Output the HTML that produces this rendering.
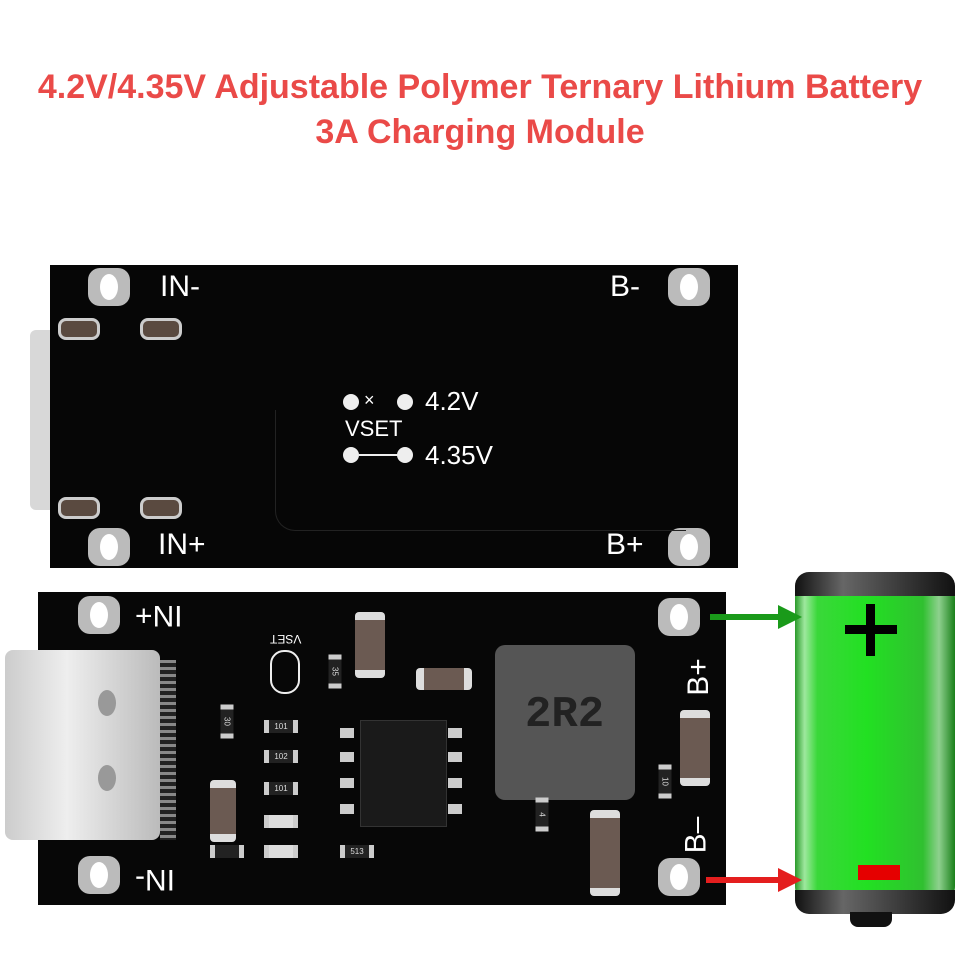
<!DOCTYPE html><html><head><style>
body{margin:0;width:960px;height:960px;background:#fff;position:relative;overflow:hidden;font-family:"Liberation Sans",sans-serif}
.a{position:absolute}
.t{color:#ea4a48;font-size:34px;font-weight:bold;text-align:center;width:960px;left:0}
.h{position:absolute;width:42px;height:38px;border-radius:12px;background:#bbb}
.h::after{content:"";position:absolute;left:12px;top:6px;width:18px;height:26px;border-radius:50%;background:#fff}
.w{position:absolute;color:#fff;font-size:30px}
.pad{position:absolute;width:36px;height:16px;border-radius:8px;background:#5a4a40;border:3px solid #ccc}
.cap{position:absolute;background:#6b5a52;border-top:8px solid #ddd;border-bottom:8px solid #ddd;border-radius:4px}
.r{position:absolute;width:24px;height:13px;background:#222;border-left:5px solid #ccc;border-right:5px solid #ccc;color:#ddd;font-size:8px;text-align:center;line-height:13px}
.pin{position:absolute;width:14px;height:10px;background:#ccc}
</style></head><body>
<div class="a t" style="top:68px">4.2V/4.35V Adjustable Polymer Ternary Lithium Battery</div>
<div class="a t" style="top:113px">3A Charging Module</div>

<div class="a" style="left:30px;top:330px;width:30px;height:180px;background:#d8d8d8;border-radius:6px"></div>
<div class="a" style="left:50px;top:265px;width:688px;height:303px;background:#060606"></div>
<div class="h" style="left:88px;top:268px"></div><div class="h" style="left:668px;top:268px"></div>
<div class="h" style="left:88px;top:528px"></div><div class="h" style="left:668px;top:528px"></div>
<div class="w" style="left:160px;top:270px">IN-</div><div class="w" style="left:610px;top:270px">B-</div>
<div class="w" style="left:158px;top:528px">IN+</div><div class="w" style="left:606px;top:528px">B+</div>
<div class="pad" style="left:58px;top:318px"></div><div class="pad" style="left:140px;top:318px"></div>
<div class="pad" style="left:58px;top:497px"></div><div class="pad" style="left:140px;top:497px"></div>
<div class="a" style="left:343px;top:394px;width:16px;height:16px;border-radius:50%;background:#eee"></div>
<div class="a" style="left:397px;top:394px;width:16px;height:16px;border-radius:50%;background:#eee"></div>
<div class="w" style="left:364px;top:390px;font-size:18px">×</div>
<div class="w" style="left:425px;top:386px;font-size:26px">4.2V</div>
<div class="w" style="left:345px;top:416px;font-size:22px">VSET</div>
<div class="a" style="left:343px;top:447px;width:16px;height:16px;border-radius:50%;background:#eee"></div>
<div class="a" style="left:359px;top:454px;width:40px;height:2px;background:#eee"></div>
<div class="a" style="left:397px;top:447px;width:16px;height:16px;border-radius:50%;background:#eee"></div>
<div class="w" style="left:425px;top:440px;font-size:26px">4.35V</div>
<div class="a" style="left:275px;top:410px;width:410px;height:120px;border-left:1px solid #222;border-bottom:1px solid #222;border-radius:0 0 0 20px"></div>

<div class="a" style="left:38px;top:592px;width:688px;height:313px;background:#070707"></div>
<div class="h" style="left:78px;top:596px"></div><div class="h" style="left:658px;top:598px"></div>
<div class="h" style="left:78px;top:856px"></div><div class="h" style="left:658px;top:858px"></div>
<div class="w" style="left:135px;top:598px;transform:rotate(180deg)">IN+</div>
<div class="w" style="left:135px;top:862px;transform:rotate(180deg)">IN-</div>
<div class="w" style="left:680px;top:660px;transform:rotate(-90deg)">B+</div>
<div class="w" style="left:678px;top:818px;transform:rotate(-90deg)">B–</div>
<div class="a" style="left:5px;top:650px;width:155px;height:190px;background:linear-gradient(90deg,#ccc,#eee 40%,#bbb);border-radius:8px"></div>
<div class="a" style="left:98px;top:690px;width:18px;height:26px;border-radius:50%;background:#999"></div>
<div class="a" style="left:98px;top:765px;width:18px;height:26px;border-radius:50%;background:#999"></div>
<div class="a" style="left:160px;top:660px;width:16px;height:180px;background:repeating-linear-gradient(#888 0 3px,#222 3px 7px)"></div>
<div class="a" style="left:270px;top:650px;width:26px;height:40px;border:2px solid #eee;border-radius:14px"></div>
<div class="w" style="left:270px;top:632px;font-size:12px;transform:rotate(180deg)">VSET</div>
<div class="cap" style="left:355px;top:612px;width:30px;height:50px"></div>
<div class="cap" style="left:416px;top:668px;width:40px;height:22px;border:0;border-left:8px solid #ddd;border-right:8px solid #ddd"></div>
<div class="cap" style="left:210px;top:780px;width:26px;height:46px"></div>
<div class="cap" style="left:680px;top:710px;width:30px;height:60px"></div>
<div class="cap" style="left:590px;top:810px;width:30px;height:70px"></div>
<div class="a" style="left:495px;top:645px;width:140px;height:155px;background:#555;border-radius:10px"></div>
<div class="a" style="left:525px;top:690px;color:#222;font-size:44px;font-family:'Liberation Mono',monospace;font-weight:bold">2R2</div>
<div class="a" style="left:360px;top:720px;width:85px;height:105px;background:#1a1a1a;border:1px solid #333"></div>
<div class="pin" style="left:340px;top:728px"></div><div class="pin" style="left:340px;top:752px"></div><div class="pin" style="left:340px;top:778px"></div><div class="pin" style="left:340px;top:804px"></div>
<div class="pin" style="left:448px;top:728px"></div><div class="pin" style="left:448px;top:752px"></div><div class="pin" style="left:448px;top:778px"></div><div class="pin" style="left:448px;top:804px"></div>
<div class="r" style="left:264px;top:720px">101</div><div class="r" style="left:264px;top:750px">102</div><div class="r" style="left:264px;top:782px">101</div>
<div class="r" style="left:264px;top:815px;background:#ddd"></div><div class="r" style="left:264px;top:845px;background:#ddd"></div>
<div class="r" style="left:340px;top:845px">513</div>
<div class="r" style="left:210px;top:715px;transform:rotate(90deg)">30</div>
<div class="r" style="left:318px;top:665px;transform:rotate(90deg)">35</div>
<div class="r" style="left:525px;top:808px;transform:rotate(90deg)">4</div>
<div class="r" style="left:648px;top:775px;transform:rotate(90deg)">10</div>
<div class="r" style="left:210px;top:845px"></div>

<div class="a" style="left:795px;top:572px;width:160px;height:340px;border-radius:26px;background:linear-gradient(90deg,#2a9a2a,#9ee89e 6%,#3ad83a 14%,#22e022 45%,#30c030 80%,#8ed08e 90%,#1a801a)"></div>
<div class="a" style="left:795px;top:572px;width:160px;height:24px;border-radius:14px 14px 0 0;background:linear-gradient(90deg,#111,#666 30%,#111)"></div>
<div class="a" style="left:795px;top:890px;width:160px;height:24px;border-radius:0 0 14px 14px;background:linear-gradient(90deg,#111,#666 30%,#111)"></div>
<div class="a" style="left:850px;top:912px;width:42px;height:15px;border-radius:0 0 8px 8px;background:#111"></div>
<div class="a" style="left:845px;top:625px;width:52px;height:9px;background:#000"></div>
<div class="a" style="left:866px;top:604px;width:9px;height:52px;background:#000"></div>
<div class="a" style="left:858px;top:865px;width:42px;height:15px;background:#e50000"></div>
<div class="a" style="left:710px;top:614px;width:70px;height:6px;background:#1a9a1a"></div>
<div class="a" style="left:778px;top:605px;border-left:24px solid #1a9a1a;border-top:12px solid transparent;border-bottom:12px solid transparent"></div>
<div class="a" style="left:706px;top:877px;width:74px;height:6px;background:#e41e1e"></div>
<div class="a" style="left:778px;top:868px;border-left:24px solid #e41e1e;border-top:12px solid transparent;border-bottom:12px solid transparent"></div>
</body></html>
